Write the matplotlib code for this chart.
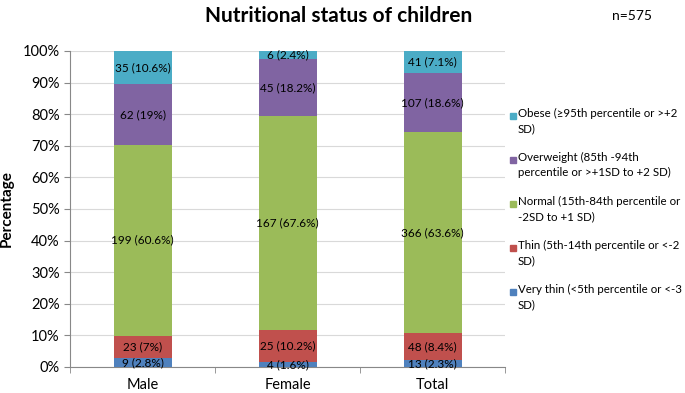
import matplotlib.pyplot as plt
import numpy as np
from matplotlib.patches import Rectangle

plt.rcParams['font.family'] = ['Lato', 'DejaVu Sans']

# data
groups = ['Male', 'Female', 'Total']
very_thin = [2.8, 1.6, 2.3]
thin = [7.0, 10.2, 8.4]
normal = [60.6, 67.6, 63.6]
overweight = [19.0, 18.2, 18.6]
obese = [10.6, 2.4, 7.1]

very_thin_txt = ['9 (2.8%)', '4 (1.6%)', '13 (2.3%)']
thin_txt = ['23 (7%)', '25 (10.2%)', '48 (8.4%)']
normal_txt = ['199 (60.6%)', '167 (67.6%)', '366 (63.6%)']
overweight_txt = ['62 (19%)', '45 (18.2%)', '107 (18.6%)']
obese_txt = ['35 (10.6%)', '6 (2.4%)', '41 (7.1%)']

labels = ['Very thin (<5th percentile or <-3\nSD)',
          'Thin (5th-14th percentile or <-2\nSD)',
          'Normal (15th-84th percentile or\n-2SD to +1 SD)',
          'Overweight (85th -94th\npercentile or >+1SD to +2 SD)',
          'Obese (\u226595th percentile or >+2\nSD)']
colors = ['#4F81BD', '#C0504D', '#9BBB59', '#8064A2', '#4BACC6']

series = [very_thin, thin, normal, overweight, obese]
texts = [very_thin_txt, thin_txt, normal_txt, overweight_txt, obese_txt]

W, H = 685, 393
fig = plt.figure(figsize=(6.85, 3.93), dpi=100)
ax = fig.add_axes([70 / W, 1 - 367 / H, 435 / W, 316 / H])

x = np.arange(len(groups))
bottom = np.zeros(len(groups))
for vals, txt, col, lab in zip(series, texts, colors, labels):
    vals = np.array(vals)
    ax.bar(x, vals, 0.4, bottom=bottom, color=col, label=lab, zorder=3)
    for xi, v, bt, t in zip(x, vals, bottom, txt):
        ax.text(xi, bt + v / 2, t, ha='center', va='center', fontsize=8.5, color='black', zorder=4)
    bottom += vals

ax.set_xlim(-0.5, 2.5)
ax.set_ylim(0, 100)
ax.set_yticks(np.arange(0, 101, 10))
ax.set_yticklabels([f'{v}%' for v in range(0, 101, 10)], fontsize=10.5)
ax.set_xticks(x)
ax.set_xticklabels(groups, fontsize=10.5)
ax.set_xticks([-0.5, 0.5, 1.5, 2.5], minor=True)
ax.tick_params(axis='x', which='major', length=0, pad=8)
ax.tick_params(axis='x', which='minor', length=4, color='#888888')
ax.tick_params(axis='y', length=4, color='#888888')
ax.yaxis.grid(True, color='#D9D9D9', linewidth=0.8, zorder=0)
for s in ['top', 'right']:
    ax.spines[s].set_visible(False)
ax.spines['left'].set_color('#888888')
ax.spines['bottom'].set_color('#888888')
ax.set_ylabel('Percentage', fontsize=11, fontweight='bold', labelpad=6)

fig.text(339 / W, 1 - 16 / H, 'Nutritional status of children', ha='center', va='center',
         fontsize=15, fontweight='bold')
fig.text(632 / W, 1 - 16 / H, 'n=575', ha='center', va='center', fontsize=10)

# legend, drawn like the spreadsheet one: marker beside the first line
y0 = 116
for i, (lab, col) in enumerate(zip(labels[::-1], colors[::-1])):
    yc = y0 + i * 44
    fig.patches.append(Rectangle((510 / W, 1 - (yc + 3) / H), 6 / W, 6 / H,
                                 transform=fig.transFigure, color=col, figure=fig))
    fig.text(518 / W, 1 - (yc - 8) / H, lab, ha='left', va='top', fontsize=8.3,
             linespacing=1.45)

fig.savefig('out.png', dpi=100)
